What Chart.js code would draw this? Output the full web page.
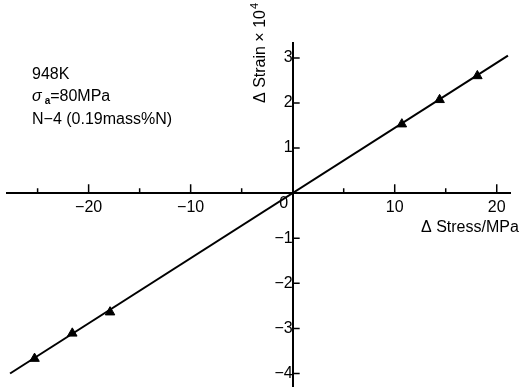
<!DOCTYPE html>
<html>
<head>
<meta charset="utf-8">
<script src="https://cdn.jsdelivr.net/npm/chart.js@4"></script>
<style>
  html, body { margin: 0; padding: 0; background: #fff; }
</style>
</head>
<body>
<canvas id="strainChart" width="523" height="387"></canvas>
<script>
// fitted line (through origin)
var lineStress = [-27.7, 21.1];
var lineStrain = [-4.0, 3.05];
// measured points
var pointStress = [-25.3, -21.6, -17.9, 10.7, 14.4, 18.1];
var pointStrain = [-3.67, -3.11, -2.64, 1.53, 2.07, 2.6];
// tick marks
var xMajorTicks = [-20, -10, 10, 20];
var xMinorTicks = [-25, -15, -5, 5, 15];
var yTicks = [-4, -3, -2, -1, 1, 2, 3];

var FONT = '"Liberation Sans", Arial, Helvetica, sans-serif';

function toXY(xs, ys) {
    return xs.map(function(x, i) { return { x: x, y: ys[i] }; });
}

function minus(v) {
    if (v === 0) return '';
    return String(v).replace('-', '\u2212');
}

// axes sit inside the plot, so don't let label overhang shrink it
function noPadding(scale) {
    scale.paddingTop = 0;
    scale.paddingBottom = 0;
    scale.paddingLeft = 0;
    scale.paddingRight = 0;
}

var decorPlugin = {
    id: 'decor',
    afterDraw: function(chart) {
        var c = chart.ctx;
        var xs = chart.scales.x, ys = chart.scales.y;
        var x0 = xs.getPixelForValue(0), y0 = ys.getPixelForValue(0);
        c.save();
        c.strokeStyle = '#000';
        c.lineWidth = 1.5;
        c.beginPath();
        xMajorTicks.forEach(function(v) {
            var px = xs.getPixelForValue(v);
            c.moveTo(px, y0); c.lineTo(px, y0 - 9);
        });
        xMinorTicks.forEach(function(v) {
            var px = xs.getPixelForValue(v);
            c.moveTo(px, y0); c.lineTo(px, y0 - 5);
        });
        yTicks.forEach(function(v) {
            var py = ys.getPixelForValue(v);
            c.moveTo(x0, py); c.lineTo(x0 + 7, py);
        });
        c.stroke();

        c.fillStyle = '#000';
        c.textBaseline = 'middle';
        c.textAlign = 'center';
        c.font = '16px ' + FONT;
        c.fillText('0', x0 - 9, y0 + 10);

        // axis titles
        c.textAlign = 'left';
        c.font = '16px ' + FONT;
        c.fillText('\u0394 Stress/MPa', 421, 228);

        c.save();
        c.translate(261, 103);
        c.rotate(-Math.PI / 2);
        c.fillText('\u0394 Strain \u00d7 10', 0, 0);
        var w = c.measureText('\u0394 Strain \u00d7 10').width;
        c.font = '11px ' + FONT;
        c.fillText('4', w + 1, -6);
        c.restore();

        // annotation
        c.font = '16px ' + FONT;
        c.fillText('948K', 32, 75);
        c.font = 'italic 16px ' + FONT;
        c.fillText('\u03c3', 32, 97);
        var sw = c.measureText('\u03c3').width;
        c.font = 'bold 10px ' + FONT;
        c.fillText('a', 32 + sw + 3, 101);
        var aw = c.measureText('a').width;
        c.font = '16px ' + FONT;
        c.fillText('=80MPa', 32 + sw + 3 + aw, 97);
        c.fillText('N\u22124 (0.19mass%N)', 32, 120);
        c.restore();
    }
};

var ctx = document.getElementById('strainChart').getContext('2d');
var strainChart = new Chart(ctx, {
    type: 'scatter',
    data: {
        datasets: [{
            label: 'fit',
            data: toXY(lineStress, lineStrain),
            showLine: true,
            borderColor: '#000',
            borderWidth: 2,
            pointRadius: 0
        }, {
            label: 'measured',
            data: toXY(pointStress, pointStrain),
            pointStyle: 'triangle',
            pointRadius: 5.5,
            pointRotation: 240,
            backgroundColor: '#000',
            borderColor: '#000',
            borderWidth: 1
        }]
    },
    options: {
        responsive: false,
        animation: false,
        layout: { autoPadding: false, padding: { left: 7, right: 13, top: 43, bottom: 0 } },
        plugins: {
            legend: { display: false },
            tooltip: { enabled: false }
        },
        scales: {
            x: {
                type: 'linear',
                min: -28,
                max: 21.3,
                position: { y: 0 },
                afterFit: noPadding,
                grid: { display: false, drawTicks: false },
                border: { display: true, color: '#000', width: 2 },
                ticks: {
                    stepSize: 10,
                    includeBounds: false,
                    maxRotation: 0,
                    padding: 5,
                    color: '#000',
                    font: { family: FONT, size: 16 },
                    callback: function(v) { return minus(v); }
                }
            },
            y: {
                type: 'linear',
                min: -4.3,
                max: 3.33,
                position: { x: 0 },
                afterFit: noPadding,
                grid: { display: false, drawTicks: false },
                border: { display: true, color: '#000', width: 2 },
                ticks: {
                    stepSize: 1,
                    includeBounds: false,
                    padding: 6,
                    color: '#000',
                    font: { family: FONT, size: 16 },
                    callback: function(v) { return minus(v); }
                }
            }
        }
    },
    plugins: [decorPlugin]
});
</script>
</body>
</html>
